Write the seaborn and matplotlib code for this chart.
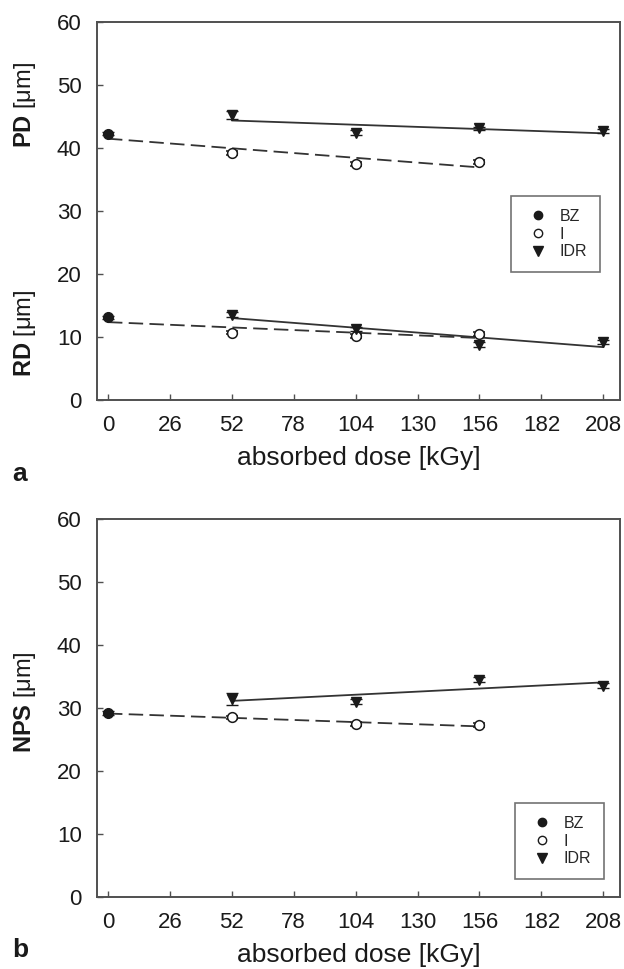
import numpy as np
import pandas as pd
import matplotlib
matplotlib.use("Agg")
import matplotlib.pyplot as plt
import seaborn as sns
from matplotlib.lines import Line2D

# Data
dose_bz = [0]
dose_i = [52, 104, 156]
dose_idr = [52, 104, 156, 208]

# panel a: PD and RD
pd_bz = [42.3]
pd_i = [39.2, 37.5, 37.8]
pd_idr = [45.2, 42.4, 43.1, 42.7]
rd_bz = [13.1]
rd_i = [10.7, 10.1, 10.5]
rd_idr = [13.5, 11.3, 8.8, 9.2]

pd_bz_err = [0.3]
pd_i_err = [0.3, 0.3, 0.3]
pd_idr_err = [0.6, 0.4, 0.3, 0.3]
rd_bz_err = [0.3]
rd_i_err = [0.3, 0.3, 0.3]
rd_idr_err = [0.4, 0.3, 0.4, 0.3]

# panel b: NPS
nps_bz = [29.2]
nps_i = [28.5, 27.4, 27.3]
nps_idr = [31.4, 31.0, 34.5, 33.5]
nps_bz_err = [0.3]
nps_i_err = [0.3, 0.3, 0.3]
nps_idr_err = [1.0, 0.4, 0.4, 0.4]

xticks = [0, 26, 52, 78, 104, 130, 156, 182, 208]
yticks = [0, 10, 20, 30, 40, 50, 60]

sns.set_style("ticks")
plt.rcParams["font.family"] = ["Liberation Sans", "DejaVu Sans"]
plt.rcParams["mathtext.fontset"] = "custom"
plt.rcParams["mathtext.rm"] = "Liberation Sans"
plt.rcParams["mathtext.bf"] = "Liberation Sans:bold"

INK = "#1a1a1a"
SPINE = "#505050"


def draw_series(ax, bz, bz_err, i, i_err, idr, idr_err):
    # fitted lines: BZ + I (dashed), IDR (solid)
    df_i = pd.DataFrame({"x": dose_bz + dose_i, "y": bz + i})
    df_idr = pd.DataFrame({"x": dose_idr, "y": idr})
    sns.regplot(data=df_i, x="x", y="y", ax=ax, ci=None, scatter=False,
                truncate=True,
                line_kws=dict(color="#333333", lw=1.3, dashes=(8, 3.5)))
    sns.regplot(data=df_idr, x="x", y="y", ax=ax, ci=None, scatter=False,
                truncate=True, line_kws=dict(color="#333333", lw=1.3))
    # points with error bars
    ax.errorbar(dose_bz, bz, yerr=bz_err, fmt="o", ms=7, color=INK,
                mfc=INK, mec=INK, capsize=4, elinewidth=1, zorder=5)
    ax.errorbar(dose_i, i, yerr=i_err, fmt="o", ms=7, color=INK,
                mfc="white", mec=INK, mew=1.1, capsize=4, elinewidth=1, zorder=5)
    ax.errorbar(dose_idr, idr, yerr=idr_err, fmt="v", ms=7.5, color=INK,
                mfc=INK, mec=INK, capsize=4, elinewidth=1, zorder=5)


def style_axes(ax):
    ax.set_xlim(-4.6, 215)
    ax.set_ylim(0, 60)
    ax.set_xticks(xticks)
    ax.set_yticks(yticks)
    ax.tick_params(direction="in", length=4, width=1, color=SPINE,
                   labelsize=16, labelcolor=INK, pad=11)
    for s in ax.spines.values():
        s.set_visible(True)
        s.set_color(SPINE)
        s.set_linewidth(1.4)
    ax.set_xlabel("absorbed dose [kGy]", fontsize=19, color=INK, labelpad=7)
    ax.set_ylabel("")


def add_legend(ax, anchor):
    handles = [
        Line2D([], [], ls="none", marker="o", ms=6, mfc=INK, mec=INK),
        Line2D([], [], ls="none", marker="o", ms=6, mfc="white", mec=INK),
        Line2D([], [], ls="none", marker="v", ms=6.5, mfc=INK, mec=INK),
    ]
    leg = ax.legend(handles, ["BZ", "I", "IDR"], loc="upper right",
                    bbox_to_anchor=anchor, fontsize=11.5, frameon=True,
                    fancybox=False, borderpad=0.8, labelspacing=0.18,
                    handlelength=1.75, handletextpad=0.5, borderaxespad=0)
    leg.get_frame().set_edgecolor(SPINE)
    leg.get_frame().set_linewidth(1.2)


fig = plt.figure(figsize=(6.24, 9.69), dpi=100)
ax1 = fig.add_axes([97 / 624, 1 - 400 / 969, 523 / 624, 378 / 969])
ax2 = fig.add_axes([97 / 624, 1 - 897 / 969, 523 / 624, 378 / 969])

draw_series(ax1, pd_bz, pd_bz_err, pd_i, pd_i_err, pd_idr, pd_idr_err)
draw_series(ax1, rd_bz, rd_bz_err, rd_i, rd_i_err, rd_idr, rd_idr_err)
style_axes(ax1)
add_legend(ax1, (0.962, 0.54))

draw_series(ax2, nps_bz, nps_bz_err, nps_i, nps_i_err, nps_idr, nps_idr_err)
style_axes(ax2)
add_legend(ax2, (0.969, 0.249))

# y labels
fig.text(25 / 624, 1 - 105 / 969, r"$\mathbf{PD}$ [μm]", rotation=90,
         ha="center", va="center", fontsize=17, color=INK)
fig.text(25 / 624, 1 - 333 / 969, r"$\mathbf{RD}$ [μm]", rotation=90,
         ha="center", va="center", fontsize=17, color=INK)
fig.text(25 / 624, 1 - 702 / 969, r"$\mathbf{NPS}$ [μm]", rotation=90,
         ha="center", va="center", fontsize=17, color=INK)

# panel letters
fig.text(20 / 624, 1 - 474 / 969, "a", fontsize=19, fontweight="bold",
         ha="center", va="center", color=INK)
fig.text(20 / 624, 1 - 950 / 969, "b", fontsize=19, fontweight="bold",
         ha="center", va="center", color=INK)

fig.savefig("out.png", dpi=100)
